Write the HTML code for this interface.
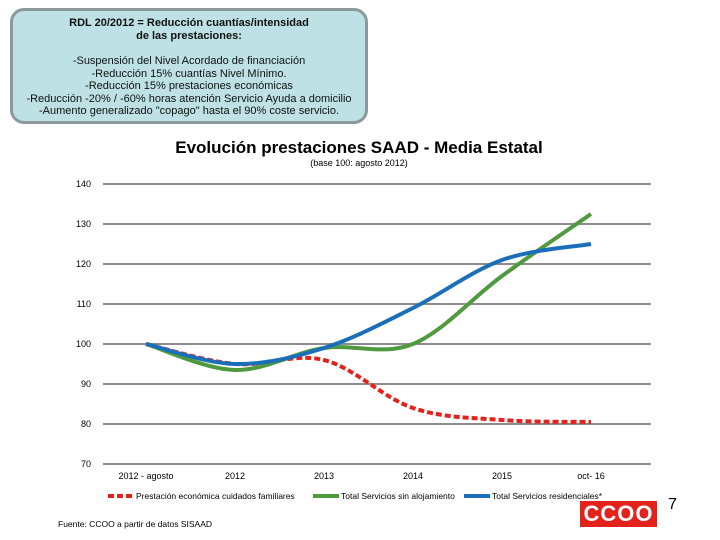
<!DOCTYPE html>
<html><head><meta charset="utf-8"><style>
body{margin:0;width:720px;height:540px;background:#fff;font-family:"Liberation Sans",sans-serif;position:relative;overflow:hidden}
.box{position:absolute;left:10px;top:8px;width:352px;height:110px;background:#bde1e4;border:3px solid #8a9a9c;border-radius:14px;text-align:center;font-size:11px;line-height:12.5px;color:#111}
</style></head><body>
<div class="box">
<div style="font-weight:bold;margin-top:6px">RDL 20/2012 = Reducción cuantías/intensidad<br>de las prestaciones:</div>
<div style="margin-top:13px">-Suspensión del Nivel Acordado de financiación<br>-Reducción 15% cuantías Nivel Mínimo.<br>-Reducción 15% prestaciones económicas<br>-Reducción -20% / -60% horas atención Servicio Ayuda a domicilio<br>-Aumento generalizado "copago" hasta el 90% coste servicio.</div>
</div>
<svg id="c" width="720" height="540" style="position:absolute;left:0;top:0"></svg>
<div style="position:absolute;left:580px;top:501px;width:77px;height:26px;background:#e3231b;color:#fff;font-weight:bold;font-size:22px;line-height:26px;text-align:center;letter-spacing:1px">CCOO</div>
<div style="position:absolute;left:668px;top:496px;font-size:16px">7</div>
<script>
const categories=["2012 - agosto","2012","2013","2014","2015","oct- 16"];
const yTicks=[70,80,90,100,110,120,130,140];
const redVals=[100,95,96,84,81,80.5];
const greenVals=[100,93.5,99,100,117,132.5];
const blueVals=[100,95,99,109,121,125];
const seriesNames=["Prestación económica cuidados familiares","Total Servicios sin alojamiento","Total Servicios residenciales*"];
const NS="http://www.w3.org/2000/svg";
const svg=document.getElementById('c');
const x=i=>146+i*89;
const y=v=>464-(v-70)*4;
function mk(t,a,txt){const e=document.createElementNS(NS,t);for(const k in a)e.setAttribute(k,a[k]);if(txt!=null)e.textContent=txt;svg.appendChild(e);return e;}
let t=mk('text',{x:359,y:153,'text-anchor':'middle','font-size':17,'font-weight':'bold','font-family':'Liberation Sans'},'Evolución prestaciones SAAD - Media Estatal');


t=mk('text',{x:359,y:166,'text-anchor':'middle','font-size':9,'font-family':'Liberation Sans'},'(base 100: agosto 2012)');


yTicks.forEach(v=>{
 const l=mk('line',{x1:103,x2:651,y1:y(v),y2:y(v),stroke:'#8c8c8c','stroke-width':2});
 
 
 const tx=mk('text',{x:91,y:y(v)+3,'text-anchor':'end','font-size':9,'font-family':'Liberation Sans'},v);
 
 
});
categories.forEach((c,i)=>{
 const tx=mk('text',{x:x(i),y:479,'text-anchor':'middle','font-size':9,'font-family':'Liberation Sans'},c);
 
 
});
function path(vals){const p=vals.map((v,i)=>[x(i),y(v)]);let d=`M${p[0][0]},${p[0][1]}`;
 for(let i=0;i<p.length-1;i++){const p0=p[i-1]||p[i],p1=p[i],p2=p[i+1],p3=p[i+2]||p2;
 d+=` C${p1[0]+(p2[0]-p0[0])/6},${p1[1]+(p2[1]-p0[1])/6} ${p2[0]-(p3[0]-p1[0])/6},${p2[1]-(p3[1]-p1[1])/6} ${p2[0]},${p2[1]}`;}return d;}
const series=[[redVals,'#e3231b','6,3','red'],[greenVals,'#4f9a3f',null,'green'],[blueVals,'#1b6fb8',null,'blue']];
series.forEach(([vals,col,dash,n])=>{
 const a={d:path(vals),fill:'none',stroke:col,'stroke-width':4,'stroke-linecap':'butt'};if(dash)a['stroke-dasharray']=dash;
 const p=mk('path',a);
 
 
});
const lx=[108,313,464];
series.forEach(([vals,col,dash,n],k)=>{
 const a={x1:lx[k],x2:lx[k]+26,y1:496,y2:496,stroke:col,'stroke-width':4};if(dash)a['stroke-dasharray']='6,3';
 const l=mk('line',a);
 
 
 const tx=mk('text',{x:lx[k]+28,y:499,'font-size':8.5,'font-family':'Liberation Sans'},seriesNames[k]);
 
 
});
t=mk('text',{x:58,y:527,'font-size':8.5,'font-family':'Liberation Sans'},'Fuente: CCOO a partir de datos SISAAD');


</script>
</body></html>
